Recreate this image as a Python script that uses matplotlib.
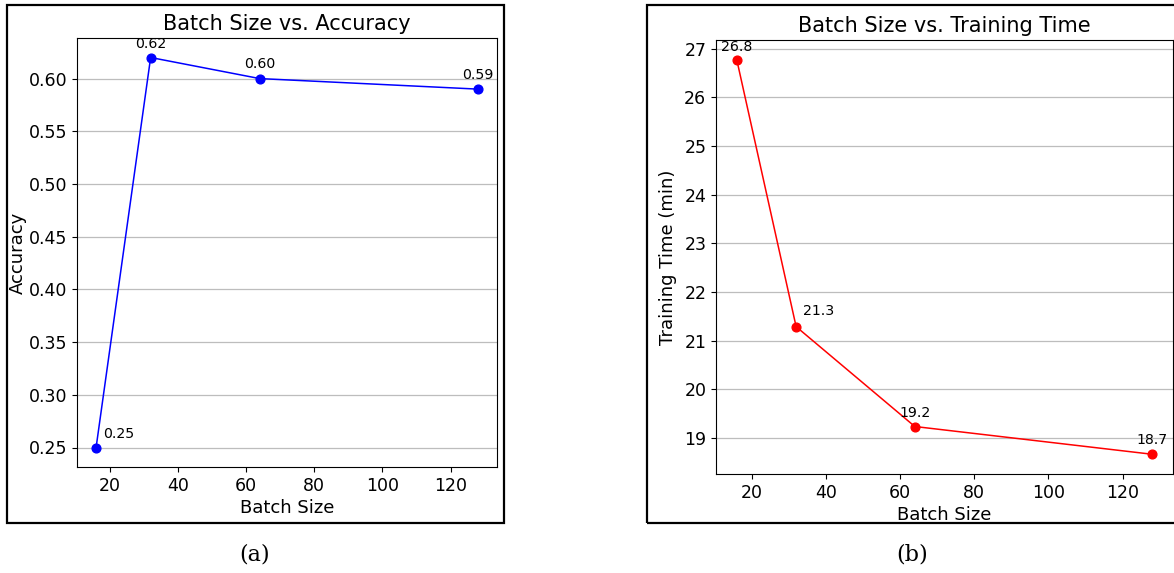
"""Batch size study: accuracy and training time side by side."""
import matplotlib
matplotlib.use("Agg")
import matplotlib.pyplot as plt
from matplotlib.patches import Rectangle

# data
batch_sizes = [16, 32, 64, 128]
accuracy = [0.25, 0.62, 0.60, 0.59]
train_time = [26.77, 21.29, 19.24, 18.67]

W, H = 1174, 573

plt.rcParams["font.family"] = ["DejaVu Sans"]
plt.rcParams["xtick.labelsize"] = 12.5
plt.rcParams["ytick.labelsize"] = 12.5
plt.rcParams["axes.labelsize"] = 13
plt.rcParams["axes.titlesize"] = 15


def px_axes(fig, left, top, right, bottom):
    # axes box given in pixel coordinates (origin top-left)
    return fig.add_axes([left / W, 1 - bottom / H, (right - left) / W, (bottom - top) / H])


def draw_panel(ax, x, y, color, fmt, offsets, title, ylabel, ypad):
    ax.plot(x, y, color=color, marker="o", markersize=6.3, linewidth=1.1)
    for xi, yi, off in zip(x, y, offsets):
        ax.annotate(fmt.format(yi), (xi, yi), xytext=off, textcoords="offset points",
                    ha="center", va="center", fontsize=10.2)
    ax.grid(axis="y", color="#bdbdbd", linewidth=0.9)
    ax.set_axisbelow(True)
    ax.set_title(title)
    ax.set_xlabel("Batch Size", labelpad=3)
    ax.set_ylabel(ylabel, labelpad=ypad)


fig = plt.figure(figsize=(W / 100, H / 100), dpi=100)

ax1 = px_axes(fig, 77, 38, 497, 467)
draw_panel(ax1, batch_sizes, accuracy, "blue", "{:.2f}",
           [(16.5, 10), (0, 9.5), (0, 10.5), (0, 10)],
           "Batch Size vs. Accuracy", "Accuracy", 1.2)

ax2 = px_axes(fig, 716, 40, 1173, 474)
draw_panel(ax2, batch_sizes, train_time, "red", "{:.1f}",
           [(0, 9.5), (16.5, 11), (0, 10), (0, 10)],
           "Batch Size vs. Training Time", "Training Time (min)", 5)

# frames around each sub-figure
for left, right in [(7, 504), (647, 1190)]:
    fig.patches.append(Rectangle((left / W, 1 - 523 / H), (right - left) / W, (523 - 5) / H,
                                 transform=fig.transFigure, fill=False,
                                 edgecolor="black", linewidth=1.6))

fig.text(255 / W, 1 - 555 / H, "(a)", ha="center", va="center",
         fontsize=16, family=["DejaVu Serif"])
fig.text(912 / W, 1 - 555 / H, "(b)", ha="center", va="center",
         fontsize=16, family=["DejaVu Serif"])

fig.savefig("out.png", dpi=100)
